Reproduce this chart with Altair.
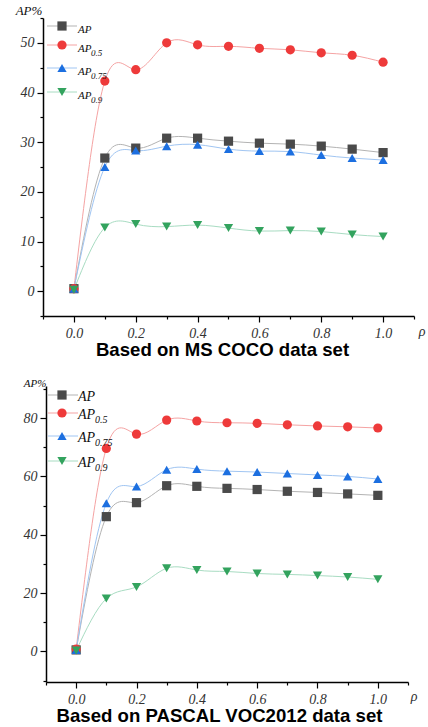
import altair as alt
import pandas as pd

rho = [0.0, 0.1, 0.2, 0.3, 0.4, 0.5, 0.6, 0.7, 0.8, 0.9, 1.0]
series_names = ["AP", "AP0.5", "AP0.75", "AP0.9"]
legend_main = ["AP", "AP", "AP", "AP"]
legend_sub = ["", "0.5", "0.75", "0.9"]

coco_ap = [0.5, 26.8, 28.8, 30.8, 30.8, 30.2, 29.8, 29.6, 29.2, 28.6, 27.9]
coco_ap50 = [0.5, 42.3, 44.6, 50.0, 49.6, 49.3, 48.9, 48.6, 48.0, 47.5, 46.1]
coco_ap75 = [0.5, 25.0, 28.3, 29.2, 29.5, 28.6, 28.2, 28.1, 27.4, 26.8, 26.4]
coco_ap90 = [0.3, 12.8, 13.5, 13.0, 13.3, 12.7, 12.1, 12.2, 12.0, 11.4, 11.0]

voc_ap = [0.5, 46.2, 51.0, 56.8, 56.6, 55.9, 55.5, 54.9, 54.5, 54.0, 53.5]
voc_ap50 = [0.8, 69.6, 74.5, 79.3, 79.0, 78.4, 78.2, 77.7, 77.3, 77.0, 76.6]
voc_ap75 = [0.5, 50.8, 56.5, 62.3, 62.5, 61.8, 61.5, 61.0, 60.5, 60.0, 59.1]
voc_ap90 = [0.3, 18.1, 22.1, 28.5, 27.9, 27.4, 26.7, 26.4, 26.0, 25.5, 24.7]

x_ticks = [-0.1, 0.0, 0.1, 0.2, 0.3, 0.4, 0.5, 0.6, 0.7, 0.8, 0.9, 1.0, 1.1]
coco_y_ticks = [-5, 0, 5, 10, 15, 20, 25, 30, 35, 40, 45, 50, 55]
voc_y_ticks = [-10, 0, 10, 20, 30, 40, 50, 60, 70, 80, 90]

marker_colors = ["#4a4a4a", "#ee3a3a", "#1c6fe0", "#33a35e"]
line_colors = ["#b3b3b3", "#f5a3a3", "#a0c5f2", "#a8dcc2"]
shapes = ["square", "circle", "triangle-up", "triangle-down"]

SERIF = "Liberation Serif"
SANS = "Liberation Sans"


def panel(series_vals, ydom, yticks, ymod, w, h, xoff, title, leg, ap_pos, rho_pos):
    rows = []
    for name, vals in zip(series_names, series_vals):
        for r, v in zip(rho, vals):
            rows.append({"rho": r, "value": v, "series": name})
    df = pd.DataFrame(rows)

    x_axis = alt.Axis(
        values=x_ticks,
        labelExpr="abs(round(datum.value*10)) % 2 == 0 ? format(datum.value, '.1f') : ''",
        tickSize={"condition": {"test": "abs(round(datum.value*10)) % 2 == 0", "value": 6}, "value": 3},
        title=None, grid=False, domainColor="black", domainWidth=1.5,
        tickColor="black", tickWidth=1.2, labelFont=SERIF, labelFontStyle="italic",
        labelFontSize=14, labelColor="#333", labelPadding=4, labelFlush=False,
    )
    y_axis = alt.Axis(
        values=yticks,
        labelExpr=f"abs(round(datum.value)) % {ymod} == 0 ? format(datum.value, 'd') : ''",
        tickSize={"condition": {"test": f"abs(round(datum.value)) % {ymod} == 0", "value": 6}, "value": 3},
        title=None, grid=False, domainColor="black", domainWidth=1.5,
        tickColor="black", tickWidth=1.2, labelFont=SERIF, labelFontStyle="italic",
        labelFontSize=14, labelColor="#333", labelPadding=3, offset=-xoff, labelFlush=False,
    )
    X = alt.X("rho:Q", scale=alt.Scale(domain=[-0.1, 1.1], range=[xoff, w], nice=False, zero=False), axis=x_axis)
    Y = alt.Y("value:Q", scale=alt.Scale(domain=ydom, nice=False, zero=False), axis=y_axis)

    layers = []
    for i, name in enumerate(series_names):
        sub = alt.Chart(df).transform_filter(alt.datum.series == name)
        layers.append(sub.mark_line(interpolate="natural", strokeWidth=1, color=line_colors[i]).encode(x=X, y=Y))
    for i, name in enumerate(series_names):
        sub = alt.Chart(df).transform_filter(alt.datum.series == name)
        layers.append(sub.mark_point(filled=True, size=85, opacity=1, shape=shapes[i],
                                     color=marker_colors[i]).encode(x=X, y=Y))

    one = pd.DataFrame({"k": [0]})
    for i in range(4):
        ry = leg["rows"][i]
        layers.append(alt.Chart(one).mark_rule(color=line_colors[i], strokeWidth=1).encode(
            x=alt.value(leg["x0"]), x2=alt.value(leg["x1"]), y=alt.value(ry)))
        layers.append(alt.Chart(one).mark_point(filled=True, size=85, opacity=1, shape=shapes[i],
                                                color=marker_colors[i]).encode(
            x=alt.value(leg["xm"]), y=alt.value(ry)))
        layers.append(alt.Chart(one).mark_text(align="left", baseline="middle", font=SERIF,
                                               fontStyle="italic", fontSize=leg["fs"], color="#111",
                                               text=legend_main[i]).encode(
            x=alt.value(leg["xt"]), y=alt.value(ry + leg["dy"])))
        if legend_sub[i]:
            layers.append(alt.Chart(one).mark_text(align="left", baseline="middle", font=SERIF,
                                                   fontStyle="italic", fontSize=leg["sfs"], color="#111",
                                                   text=legend_sub[i]).encode(
                x=alt.value(leg["xs"]), y=alt.value(ry + leg["sdy"])))

    layers.append(alt.Chart(one).mark_text(align="center", baseline="middle", font=SERIF,
                                           fontStyle="italic", fontSize=ap_pos[2], color="#111",
                                           text="AP%").encode(
        x=alt.value(ap_pos[0]), y=alt.value(ap_pos[1])))
    layers.append(alt.Chart(one).mark_text(align="center", baseline="middle", font=SERIF,
                                           fontStyle="italic", fontSize=14, color="#333",
                                           text="ρ").encode(
        x=alt.value(rho_pos[0]), y=alt.value(rho_pos[1])))

    return alt.layer(*layers).properties(
        width=w, height=h,
        title=alt.TitleParams(title, orient="bottom", font=SANS, fontSize=18.6, fontWeight="bold",
                              color="black", anchor="middle", offset=1, dx=-6),
    )


top = panel(
    [coco_ap, coco_ap50, coco_ap75, coco_ap90], [-5, 55], coco_y_ticks, 10,
    371, 298, 0, "Based on MS COCO data set",
    {"rows": [8, 27, 50, 74], "x0": 4, "x1": 34, "xm": 19, "xt": 35, "xs": 48,
     "fs": 11, "dy": 4, "sfs": 9, "sdy": 8},
    (-14, -7, 13), (379, 314),
)
bottom = panel(
    [voc_ap, voc_ap50, voc_ap75, voc_ap90], [-10.5, 91], voc_y_ticks, 20,
    365, 296, 3, "Based on PASCAL VOC2012 data set",
    {"rows": [9, 27, 50, 75], "x0": 5, "x1": 35, "xm": 19, "xt": 35, "xs": 52,
     "fs": 14, "dy": 2, "sfs": 10, "sdy": 7},
    (-8, -2, 11), (371, 311),
)

chart = alt.vconcat(top, bottom, spacing=70, bounds="flush").properties(
    padding={"left": 15, "top": 5, "right": 0, "bottom": 0},
    background="white",
).configure_view(stroke=None)

chart.save("out.html", embed_options={"renderer": "svg", "actions": False})
